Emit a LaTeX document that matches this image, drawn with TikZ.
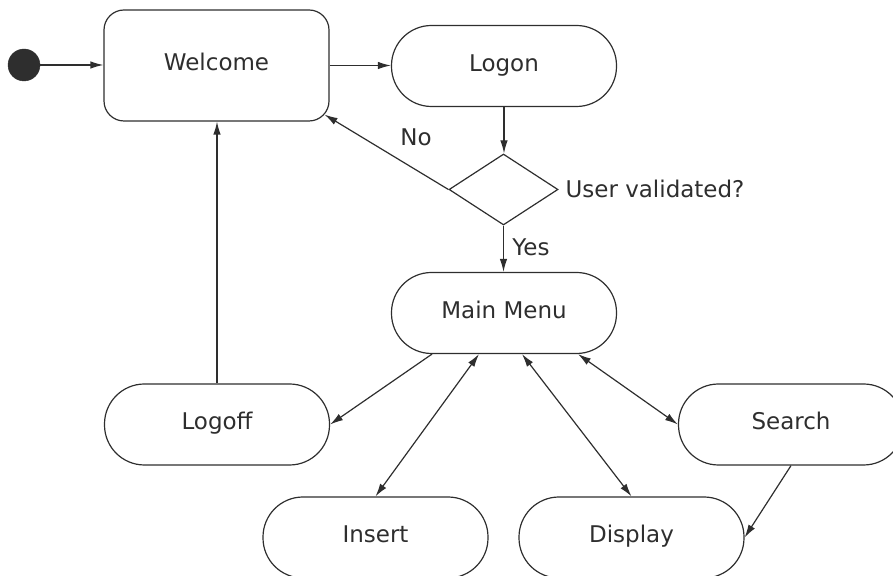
\documentclass[tikz,border=0pt]{standalone}
\usepackage{fontspec}
\setmainfont{DejaVu Sans}
\usetikzlibrary{shapes.geometric,arrows.meta,calc}
\definecolor{ink}{HTML}{2E2E2E}
\begin{document}
\begin{tikzpicture}[x=1pt,y=1pt,
  font=\fontsize{23}{27}\selectfont, text=ink,
  line/.style={draw=ink, line width=1.2pt},
  arr/.style={line, -{Latex[length=13pt,width=7.5pt]}},
  darr/.style={line, {Latex[length=13pt,width=7.5pt]}-{Latex[length=13pt,width=7.5pt]}},
  txt/.style={text height=17pt, text depth=6pt},
  statebox/.style={line, txt, rectangle, rounded corners=20pt, minimum width=225pt, minimum height=111pt, inner sep=0pt},
  pill/.style={line, txt, rectangle, rounded corners=40pt, minimum width=225pt, minimum height=81pt, inner sep=0pt},
  decision/.style={line, diamond, minimum width=109pt, minimum height=71pt, inner sep=0pt},
  startdot/.style={circle, fill=ink, draw=ink, minimum size=32pt, inner sep=0pt}]
\useasboundingbox (0,0) rectangle (893,575);
\node[startdot] (start) at (24,510) {};
\node[statebox] (welcome) at (216.5,509.5) {Welcome};
\node[pill] (logon) at (504,509) {Logon};
\node[decision] (dia) at (503.5,385.5) {};
\node[anchor=west] (q) at (562,386) {User validated?};
\node[pill] (menu) at (504,262) {Main Menu};
\node[pill] (logoff) at (217,150.5) {Logoff};
\node[pill] (search) at (791,150.5) {Search};
\node[pill] (insert) at (375.5,37.5) {Insert};
\node[pill] (display) at (631.5,37.5) {Display};
\node (no) at (416,438) {No};
\node (yes) at (531,328) {Yes};

\draw[arr] (start) -- (welcome.west |- start);
\draw[arr] (welcome.east) -- (welcome.east -| logon.west);
\draw[arr] (logon.south) -- (logon.south |- dia.north);
\draw[arr] (dia.west) -- ($(welcome.south east)+(-5,7)$);
\draw[arr] (dia.south) -- (dia.south |- menu.north);
\draw[arr] (logoff.north) -- (logoff.north |- welcome.south);
\draw[arr] ($(menu.south)+(-72,0)$) -- (logoff.east);
\draw[darr] ($(menu.south)+(-25,0)$) -- (insert.north);
\draw[darr] ($(menu.south)+(18,0)$) -- (display.north);
\draw[darr] ($(menu.south)+(74,0)$) -- (search.west);
\draw[arr] (search.south) -- (display.east);
\end{tikzpicture}
\end{document}
